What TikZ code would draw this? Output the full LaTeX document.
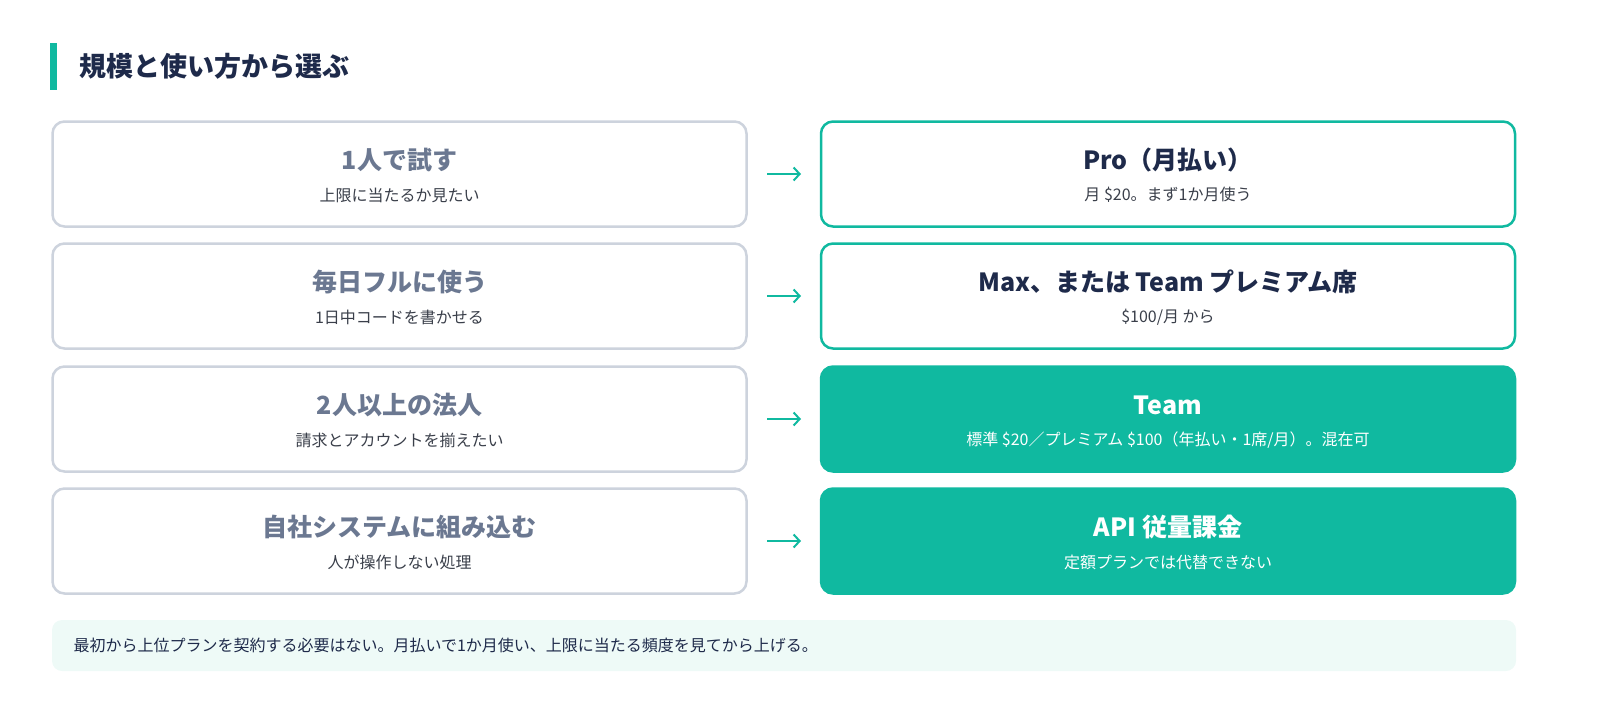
\documentclass[tikz,border=0pt]{standalone}
\usepackage{fontspec}
\setmainfont{Noto Sans CJK JP}
\usetikzlibrary{arrows.meta}
\definecolor{teal}{HTML}{10B9A0}
\definecolor{navy}{HTML}{1E2A4A}
\definecolor{gtext}{HTML}{6B7891}
\definecolor{gline}{HTML}{CDD3DD}
\definecolor{note}{HTML}{EEFAF7}
\definecolor{sub}{HTML}{3A3F4A}
\begin{document}
\begin{tikzpicture}[x=1pt,y=-1pt,
 lbox/.style={draw=gline,line width=2.5pt,rounded corners=12pt,fill=white,minimum width=694pt,minimum height=105pt},
 obox/.style={draw=teal,line width=2.5pt,rounded corners=12pt,fill=white,minimum width=694pt,minimum height=105pt},
 fbox/.style={draw=teal,line width=2.5pt,rounded corners=12pt,fill=teal,minimum width=694pt,minimum height=105pt},
 main/.style={font=\fontsize{25}{28}\selectfont\bfseries},
 subt/.style={font=\fontsize{16}{19}\selectfont},
 arr/.style={draw=teal,line width=2pt,-{Straight Barb[length=6pt,width=13pt]}}]
\fill[teal] (50,43) rectangle (57,90);
\node[anchor=west,text=navy,font=\fontsize{27}{30}\selectfont\bfseries] (title) at (76,66) {規模と使い方から選ぶ};
\foreach \i/\y/\a/\b/\st in {1/174/1人で試す/上限に当たるか見たい/o,
  2/296/毎日フルに使う/1日中コードを書かせる/o,
  3/419/2人以上の法人/請求とアカウントを揃えたい/f,
  4/541/自社システムに組み込む/人が操作しない処理/f}{
  \node[lbox] (L\i) at (399.5,\y) {};
  \node[main,text=gtext] (La\i) at (399.5,\y-14) {\a};
  \node[subt,text=sub] (Lb\i) at (399.5,\y+21) {\b};
  \node[\st box] (R\i) at (1168,\y) {};
  \coordinate (as\i) at (767,\y);
  \coordinate (ae\i) at (801,\y);
  \draw[arr] (as\i) -- (ae\i);
}
\node[main,text=navy] (Ra1) at (1168,160) {Pro（月払い）};
\node[subt,text=sub] (Rb1) at (1168,195) {月 \$20。まず1か月使う};
\node[main,text=navy] (Ra2) at (1168,282) {Max、または Team プレミアム席};
\node[subt,text=sub] (Rb2) at (1168,317) {\$100/月 から};
\node[main,text=white] (Ra3) at (1168,405) {Team};
\node[subt,text=white] (Rb3) at (1168,440) {標準 \$20／プレミアム \$100（年払い・1席/月）。混在可};
\node[main,text=white] (Ra4) at (1168,527) {API 従量課金};
\node[subt,text=white] (Rb4) at (1168,562) {定額プランでは代替できない};
\fill[note,rounded corners=10pt] (52,620) rectangle (1516,671);
\node[anchor=west,subt,text=navy] (n) at (70,645) {最初から上位プランを契約する必要はない。月払いで1か月使い、上限に当たる頻度を見てから上げる。};
\pgfresetboundingbox
\useasboundingbox (0,0) rectangle (1600,707);
\end{tikzpicture}
\end{document}
